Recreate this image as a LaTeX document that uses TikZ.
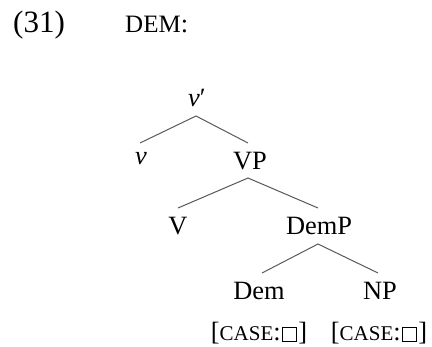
\documentclass[tikz,border=0pt]{standalone}
\usepackage{fontspec}
\setmainfont{Liberation Serif}
\newcommand{\mysc}[2]{{\fontsize{#1}{#1}\selectfont #2}}
\newcommand{\mybox}{\kern1.2pt{\setlength{\fboxsep}{0pt}\setlength{\fboxrule}{0.9pt}\fbox{\rule{0pt}{13.4pt}\rule{13.4pt}{0pt}}}\kern1.2pt}
\tikzset{
  lab/.style={anchor=base, inner sep=0pt, font=\fontsize{26.4}{30}\selectfont},
  branch/.style={draw=black!65, line width=1pt},
}
\begin{document}
\begin{tikzpicture}[x=1pt,y=-1pt]
\useasboundingbox (0,0) rectangle (432,347);
% header
\node[lab, anchor=base west, font=\fontsize{31}{34}\selectfont] (num) at (13,33) {(31)};
\node[lab, anchor=base west] (title) at (125,33) {\mysc{25}{DEM}:};
% tree nodes
\node[lab, anchor=base west] (vbar) at (188,107) {\textit{v}\char"2032};
\node[lab] (v) at (141,165) {\textit{v}};
\node[lab] (VP) at (250,170) {VP};
\node[lab] (V) at (178,235) {V};
\node[lab] (DemP) at (319,235) {DemP};
\node[lab] (Dem) at (259,300) {Dem};
\node[lab] (NP) at (380,300) {NP};
\node[lab] (f1) at (259,341) {[\mysc{21}{CASE}:\mybox]};
\node[lab] (f2) at (379,341) {[\mysc{21}{CASE}:\mybox]};
% branch ends
\coordinate (vbar-b) at (196,116);
\coordinate (v-t) at (140,143);
\coordinate (VP-t) at (248,143);
\coordinate (VP-b) at (248,178);
\coordinate (V-t) at (178,208);
\coordinate (DemP-t) at (318,208);
\coordinate (DemP-b) at (318,244);
\coordinate (Dem-t) at (262,273);
\coordinate (NP-t) at (378,273);
\draw[branch] (v-t) -- (vbar-b) -- (VP-t);
\draw[branch] (V-t) -- (VP-b) -- (DemP-t);
\draw[branch] (Dem-t) -- (DemP-b) -- (NP-t);
\end{tikzpicture}
\end{document}
